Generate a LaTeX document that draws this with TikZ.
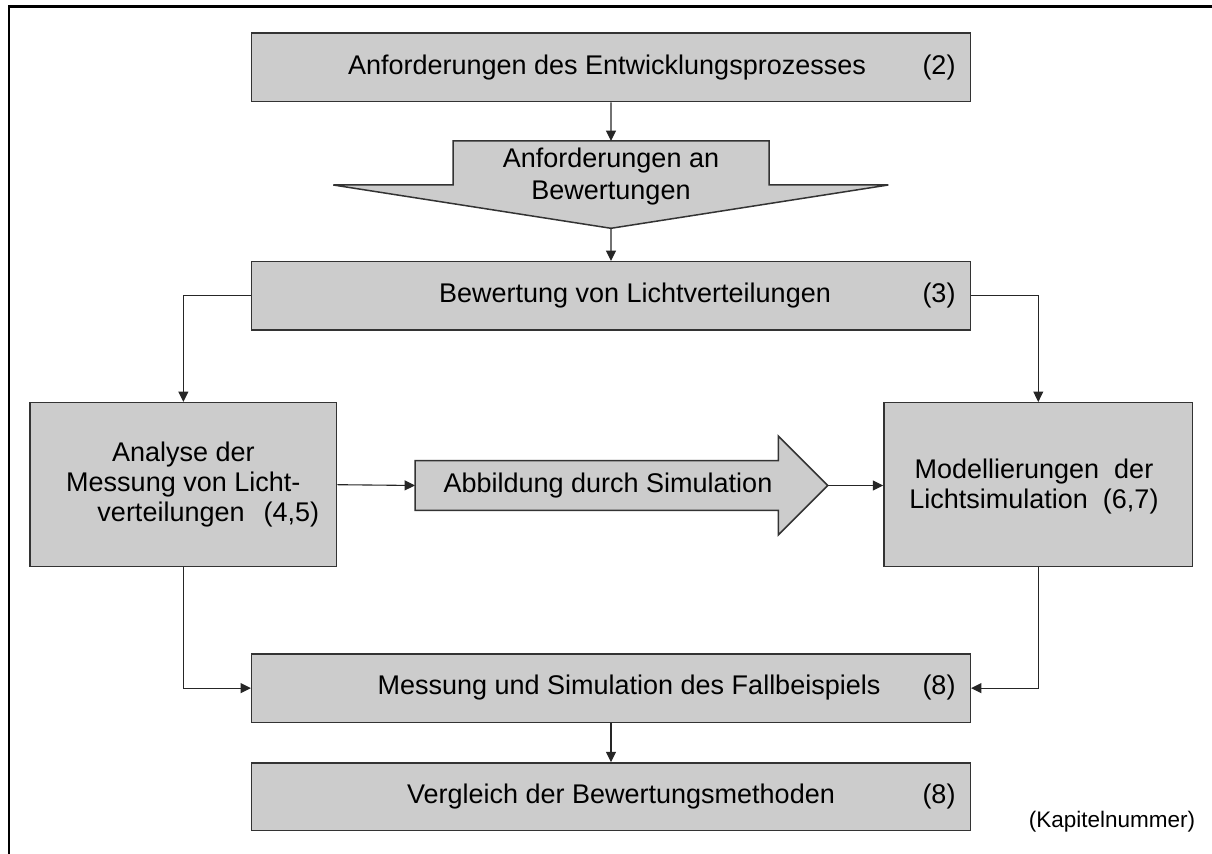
\documentclass[tikz,border=0pt]{standalone}
\usepackage{fontspec}
\setmainfont{Liberation Sans}
\usetikzlibrary{arrows.meta,fit}
\definecolor{boxgray}{HTML}{CCCCCC}
\begin{document}
\begin{tikzpicture}[x=0.5pt,y=-0.5pt,
  box/.style={draw=black!80,line width=0.75pt,fill=boxgray,inner sep=0pt},
  txt/.style={inner sep=0pt,font=\fontsize{13.5}{15}\selectfont},
  wire/.style={line width=0.55pt,draw=black!85},
  arrowed/.style={wire,-{Triangle[length=5.2pt,width=5pt]}},
  frameline/.style={line width=1.2pt}]
\useasboundingbox (0,0) rectangle (1212,854);
% outer frame: only its top and left edges lie on the page
\draw[frameline] (1212,6.7) -| (8.7,854);

% top box
\node[box,fit={(251.7,33)(970.3,101.7)}] (req) {};
\node[txt] (reqT) at (607,68) {Anforderungen des Entwicklungsprozesses};
\node[txt] (reqN) at (939,68) {(2)};

% block arrow pointing down
\draw[box] (453,141) -- (769,141) -- (769,185) -- (888.3,185) -- (611,228.3)
  -- (333.3,185) -- (453,185) -- cycle;
\coordinate (aTop) at (611,141);
\coordinate (aTip) at (611,228.3);
\node[txt,align=center,font=\fontsize{13.5}{16}\selectfont] (aT) at (611,177)
  {Anforderungen an\\Bewertungen};

% evaluation box
\node[box,fit={(251.7,261.7)(970.3,330)}] (bew) {};
\node[txt] (bewT) at (635,296) {Bewertung von Lichtverteilungen};
\node[txt] (bewN) at (939,296) {(3)};

% measurement analysis
\node[box,fit={(30,402.7)(336.7,566.7)}] (ana) {};
\node[txt,align=center] (anaT) at (183.3,485)
  {Analyse der\\Messung von Licht-\\\hspace*{25pt}verteilungen\hspace{9.5pt}(4,5)};

% block arrow pointing right
\draw[box] (415,460.7) -- (778.3,460.7) -- (778.3,436) -- (827.7,485.5)
  -- (778.3,535) -- (778.3,510.3) -- (415,510.3) -- cycle;
\coordinate (sIn) at (415,485.5);
\coordinate (sOut) at (827.7,485.5);
\node[txt] (sT) at (608,485.5) {Abbildung durch Simulation};

% light simulation modelling
\node[box,fit={(884,402.7)(1192.6,566.7)}] (mod) {};
\node[txt,align=center] (modT) at (1034,487)
  {Modellierungen\ \ der\\Lichtsimulation\ \ (6,7)};

% case study
\node[box,fit={(251.7,654)(970.3,722.3)}] (mes) {};
\node[txt] (mesT) at (629,688) {Messung und Simulation des Fallbeispiels};
\node[txt] (mesN) at (939,688) {(8)};

% comparison
\node[box,fit={(251.7,763)(970.3,830.7)}] (ver) {};
\node[txt] (verT) at (621,797) {Vergleich der Bewertungsmethoden};
\node[txt] (verN) at (939,797) {(8)};

\node[txt,font=\fontsize{11.25}{13}\selectfont] (kap) at (1112,822) {(Kapitelnummer)};

% connectors
\draw[arrowed] (req.south) -- (aTop);
\draw[arrowed] (aTip) -- (bew.north);
\draw[arrowed] (bew.west) -| (ana.north);
\draw[arrowed] (bew.east) -| (mod.north);
\draw[arrowed] (ana.east) -- (sIn);
\draw[arrowed] (sOut) -- (sOut -| mod.west);
\draw[arrowed] (ana.south) |- (mes.west);
\draw[arrowed] (mod.south) |- (mes.east);
\draw[arrowed] (mes.south) -- (ver.north);
\end{tikzpicture}
\end{document}
